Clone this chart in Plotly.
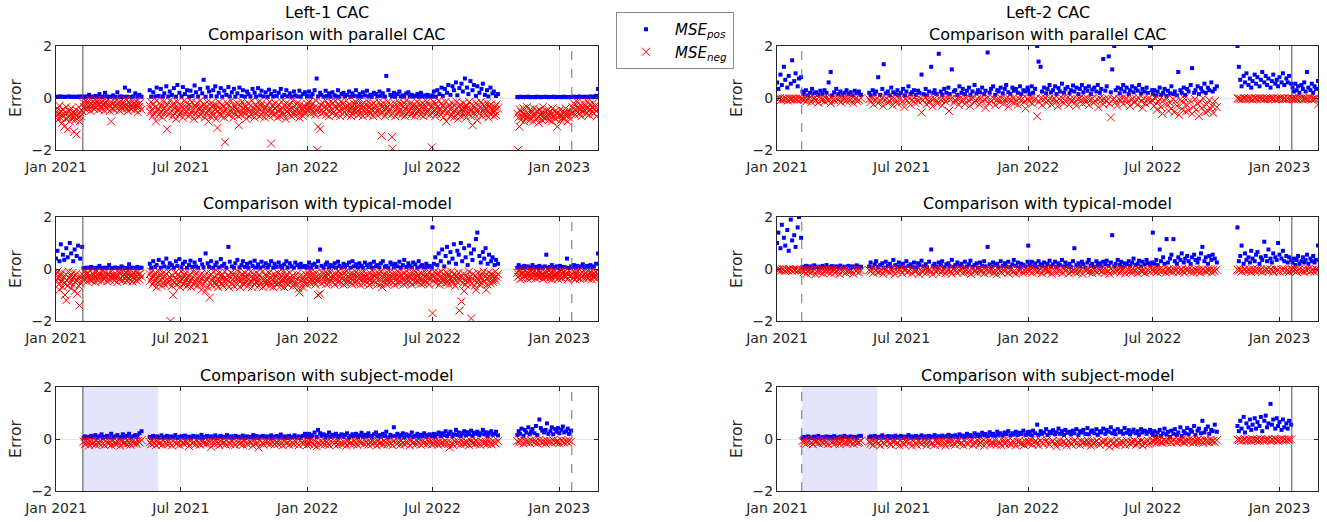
import pandas as pd
import plotly.graph_objects as go

# ---------------- data (values in hundredths of error units) ----------------
# segment boundaries (dates between which each list of daily values is spread)
L_START = ["2021-01-01", "2021-02-10", "2021-05-17", "2022-01-01", "2022-07-01", "2022-11-01", "2023-01-20"]
L_END = ["2021-02-08", "2021-05-05", "2021-12-31", "2022-06-30", "2022-10-04", "2023-01-18", "2023-02-26"]
R_START = ["2021-01-01", "2021-02-07", "2021-05-15", "2022-01-01", "2022-07-01", "2022-11-01", "2023-01-20"]
R_END = ["2021-02-05", "2021-05-03", "2021-12-31", "2022-06-30", "2022-10-02", "2023-01-18", "2023-02-26"]

TICK_DATES = ["2021-01-01", "2021-07-01", "2022-01-01", "2022-07-01", "2023-01-01"]
TICK_TEXT = ["Jan 2021", "Jul 2021", "Jan 2022", "Jul 2022", "Jan 2023"]
Y_TICKS = [-2, 0, 2]
Y_TEXT = ["\u22122", "0", "2"]

# Left-1, parallel CAC
l1_par_pos = [
    [5, 4, 6, 5, 4, 5, 6, 4, 5, 5, 4, 6, 5],
    [5, 4, 6, 12, 5, 4, 8, 5, 15, 4, 5, 20, 6, 4, 5, 10, 4, 22, 5, 6, 4, 40, 5, 28, 4, 6, 18, 5, 12, 5],
    [30, 5, 22, 6, 40, 8, 35, 5, 18, 45, 6, 25, 12, 38, 5, 50, 20, 6, 42, 15, 30, 5, 28, 8, 48, 22, 6, 35, 18, 70,
     5, 40, 25, 8, 30, 45, 6, 20, 38, 5, 28, 12, 42, 6, 22, 35, 5, 18, 40, 8, 30, 5, 25, 15, 6, 35, 20, 5, 38, 10,
     28, 6, 22, 5, 32, 15, 6, 26, 8, 20, 35, 5, 12, 30, 6, 18, 5, 25, 10, 6, 28, 5, 15, 22, 6],
    [8, 25, 5, 15, 30, 75, 6, 20, 12, 5, 28, 8, 18, 5, 22, 10, 6, 30, 5, 15, 20, 6, 12, 25, 5, 18, 8, 30, 6, 15,
     5, 22, 10, 28, 6, 12, 5, 20, 15, 6, 25, 8, 18, 5, 85, 30, 12, 6, 20, 5, 15, 25, 6, 10, 5, 18, 22, 6, 12, 5,
     8, 15, 5, 20, 6, 10, 5, 12, 6, 5],
    [10, 25, 5, 30, 15, 40, 8, 35, 20, 50, 12, 45, 30, 60, 10, 38, 55, 25, 75, 40, 15, 65, 30, 50, 8, 45, 20, 35,
     55, 12, 30, 6, 40, 18, 25, 8, 15],
    [4, 3, 5, 4, 3, 4, 5, 3, 4, 4, 3, 5, 4, 3, 4, 5, 4, 3, 4, 4, 5, 3, 4, 4, 3, 5, 4, 3, 4, 4],
    [4, 5, 3, 4, 6, 4, 3, 5, 4, 4, 6, 3, 5, 8, 35],
]
l1_par_neg = [
    [-55, -70, -40, -85, -60, -30, -75, -50, -65, -95, -45, -70, -110, -55, -80, -35, -60, -120, -75, -50, -90,
     -65, -40, -80, -55, -70, -130, -60, -85, -45, -140, -65, -75, -35, -90, -55, -70, -50],
    [-20, -35, -10, -45, -25, -15, -40, -30, -5, -50, -20, -35, -28, -12, -42, -22, -38, -8, -30, -18, -45, -25,
     -33, -15, -40, -10, -28, -48, -20, -35, -12, -42, -25, -30, -50, -18, -90, -38, -22, -45, -15, -33, -28, -8,
     -40, -20, -48, -30, -12, -36, -25, -44, -18, -32, -5, -40, -26, -50, -15, -35, -22, -42, -10, -30, -38, -20,
     -46, -28, -14, -40, -55, -24, -34, -18, -45],
    [-30, -55, -15, -45, -70, -25, -60, -35, -90, -10, -50, -40, -65, -20, -55, -30, -75, -45, -15, -60,
     -35, -50, -120, -25, -65, -40, -10, -55, -30, -70, -45, -20, -60, -35, -80, -15, -50, -40, -65, -25,
     -55, -30, -75, -45, -10, -60, -35, -50, -20, -70, -40, -25, -65, -55, -15, -45, -80, -30, -60, -35,
     -20, -50, -70, -40, -10, -65, -30, -55, -45, -25, -75, -35, -60, -15, -50, -90, -40, -70, -20, -55,
     -35, -65, -25, -45, -80, -30, -115, -50, -15, -60, -40, -70, -25, -55, -35, -75, -170, -45, -20, -60,
     -30, -65, -50, -10, -55, -40, -75, -25, -60, -35, -45, -20, -70, -105, -50, -30, -65, -15, -55, -40,
     -25, -60, -35, -80, -45, -20, -70, -50, -30, -65, -10, -55, -40, -75, -25, -60, -35, -50, -15, -70,
     -45, -30, -65, -20, -55, -40, -75, -35, -60, -25, -50, -70, -15, -45, -175, -55, -30, -65, -40, -20,
     -60, -35, -75, -50, -25, -70, -45, -15, -55, -40, -65, -30, -80, -20, -50, -35, -60, -45, -25, -70,
     -40, -10, -55, -65, -30, -50, -45, -20, -60, -35, -75, -25, -55, -40, -70, -30, -50, -60, -35, -45],
    [-25, -50, -15, -40, -60, -30, -45, -20, -55, -35, -65, -10, -50, -200, -110, -40, -120, -25, -60, -45,
     -20, -55, -35, -10, -65, -40, -25, -50, -70, -30, -15, -45, -60, -20, -55, -35, -10, -65, -40, -25,
     -50, -30, -70, -15, -45, -60, -20, -40, -55, -35, -10, -65, -30, -50, -25, -45, -70, -35, -60, -20,
     -50, -40, -15, -55, -30, -65, -45, -10, -60, -25, -40, -70, -35, -20, -55, -45, -30, -65, -15, -50,
     -35, -60, -25, -45, -70, -20, -55, -40, -30, -65, -50, -15, -45, -60, -25, -145, -35, -55, -20, -70,
     -40, -30, -60, -15, -50, -45, -25, -65, -150, -195, -35, -55, -20, -70, -40, -30, -60, -15, -50, -45,
     -25, -65, -35, -55, -20, -70, -40, -10, -60, -30, -50, -45, -20, -65, -35, -55, -25, -70, -40, -30,
     -60, -15, -50, -45, -25, -65, -35, -55, -20, -70, -40, -30, -60, -15, -50, -45, -25, -65, -35, -190],
    [-30, -55, -15, -45, -70, -25, -60, -35, -10, -50, -40, -65, -20, -55, -30, -75, -45, -15, -90, -60,
     -35, -50, -25, -70, -40, -65, -20, -55, -75, -30, -45, -15, -60, -80, -35, -55, -25, -70, -40, -50,
     -20, -65, -35, -45, -75, -30, -60, -15, -50, -40, -70, -25, -105, -55, -35, -65, -20, -50, -85, -45,
     -30, -60, -15, -40, -70, -25, -55, -45, -35, -65, -20, -50, -75, -30, -60, -40, -25, -55, -45, -70,
     -35, -50, -65, -25, -40],
    [-60, -200, -75, -110, -45, -85, -55, -70, -40, -90, -65, -50, -80, -35, -70, -60, -85, -45, -75, -55,
     -65, -90, -40, -70, -60, -80, -50, -75, -95, -45, -65, -55, -85, -35, -70, -60, -80, -50, -75, -65,
     -45, -85, -55, -70, -60, -90, -40, -75, -65, -50, -80, -60, -110, -55, -70, -45, -85, -65, -75, -50,
     -60, -80, -40, -70, -55, -90, -65, -75, -50, -60],
    [-35, -55, -20, -45, -65, -30, -50, -15, -40, -60, -25, -45, -70, -35, -55, -20, -45, -30, -60, -40, -15,
     -50, -65, -25, -45, -35, -55, -20, -60, -40, -30, -50, -70, -45],
]

# Left-1, typical-model
l1_typ_pos = [
    [40, 70, 30, 95, 55, 35, 80, 45, 100, 60, 30, 75, 50, 90, 40, 85],
    [4, 3, 5, 4, 8, 3, 4, 5, 12, 4, 3, 5, 4, 15, 3, 4, 6, 4, 3, 10, 5, 4, 3, 18, 4, 5, 3, 8, 4, 5],
    [20, 5, 30, 8, 15, 35, 5, 25, 10, 40, 6, 22, 15, 5, 30, 12, 38, 6, 20, 28, 5, 15, 32, 8, 25, 10, 5, 35, 18, 6,
     60, 22, 8, 30, 5, 15, 25, 6, 38, 12, 20, 5, 85, 28, 10, 5, 22, 35, 6, 15, 30, 8, 20, 5, 25, 12, 32, 6, 18, 5,
     28, 10, 22, 6, 15, 30, 5, 20, 8, 25, 12, 5, 18, 30, 6, 22, 10, 5, 25, 15, 6, 20, 8, 12, 5],
    [10, 25, 5, 15, 20, 8, 30, 75, 12, 5, 18, 25, 6, 15, 10, 22, 5, 28, 12, 6, 20, 8, 15, 25, 5, 30, 10, 18, 6, 22,
     12, 5, 25, 15, 8, 20, 5, 28, 10, 15, 6, 22, 30, 8, 12, 5, 25, 18, 6, 20, 10, 28, 5, 15, 35, 8, 22, 12, 6, 25,
     18, 5, 30, 10, 15, 6, 20, 8, 12, 5],
    [160, 20, 45, 15, 60, 30, 75, 10, 50, 85, 25, 65, 40, 95, 20, 70, 55, 100, 30, 80, 45, 15, 90, 60, 35, 75,
     115, 140, 50, 25, 65, 40, 80, 20, 55, 30, 45, 15, 35, 20],
    [5, 15, 4, 8, 12, 5, 10, 4, 6, 15, 5, 8, 4, 12, 6, 5, 10, 55, 4, 8, 15, 5, 6, 10, 4, 12, 5, 8, 6, 40, 4, 10],
    [8, 15, 5, 12, 6, 10, 18, 5, 12, 8, 15, 6, 10, 20, 60],
]
l1_typ_neg = [
    [-20, -45, -10, -35, -60, -80, -25, -50, -15, -40, -70, -30, -55, -100, -20, -120, -45, -65, -10, -35, -55,
     -25, -75, -40, -15, -60, -30, -85, -50, -20, -45, -95, -35, -65, -140, -25, -55, -40],
    [-25, -40, -10, -35, -20, -48, -15, -30, -42, -8, -28, -45, -18, -35, -22, -50, -12, -38, -25, -44, -15, -30,
     -20, -46, -10, -34, -26, -40, -14, -32, -48, -22, -36, -18, -42, -28, -10, -38, -24, -30, -45, -16, -33,
     -27, -50, -12, -40, -20, -35, -8, -44, -26, -18, -38, -30, -14, -46, -22, -36, -10, -42, -28, -20, -48,
     -32, -15, -38, -25, -44, -12, -35, -22, -40, -18, -30],
    [-20, -45, -10, -35, -60, -25, -50, -15, -40, -70, -30, -55, -10, -45, -25, -65, -35, -15, -50, -30,
     -60, -20, -40, -55, -10, -45, -30, -200, -65, -25, -100, -50, -35, -15, -60, -40, -20, -55, -30, -70,
     -45, -10, -35, -60, -25, -50, -15, -40, -65, -30, -55, -20, -45, -70, -35, -10, -60, -25, -50, -40,
     -15, -65, -30, -55, -45, -20, -80, -35, -60, -25, -50, -85, -40, -15, -70, -30, -110, -55, -20, -45,
     -65, -35, -10, -50, -25, -60, -40, -70, -15, -45, -30, -55, -20, -65, -35, -50, -10, -40, -60, -25,
     -45, -70, -30, -15, -55, -40, -20, -65, -35, -50, -25, -60, -10, -45, -30, -70, -40, -20, -55, -35,
     -60, -15, -50, -30, -65, -40, -25, -55, -10, -45, -70, -35, -20, -60, -40, -50, -15, -30, -65, -45,
     -25, -55, -35, -10, -70, -40, -50, -20, -60, -30, -45, -15, -65, -35, -55, -25, -40, -70, -20, -50,
     -30, -60, -45, -15, -55, -35, -65, -25, -50, -10, -40, -70, -30, -55, -20, -45, -60, -35, -15, -50,
     -40, -25, -65, -30, -55, -45, -20, -60, -35, -75, -90, -50, -25, -40, -70, -30, -55, -45, -20, -60],
    [-30, -15, -45, -25, -55, -10, -40, -20, -50, -35, -60, -15, -45, -30, -100, -40, -95, -25, -55, -10,
     -35, -20, -50, -30, -58, -15, -42, -25, -55, -12, -45, -35, -22, -50, -28, -60, -18, -40, -26, -52,
     -10, -47, -30, -20, -53, -36, -60, -14, -40, -24, -55, -8, -45, -32, -21, -50, -38, -58, -16, -42,
     -25, -55, -12, -46, -30, -18, -52, -35, -60, -15, -40, -27, -56, -10, -44, -31, -22, -50, -36, -62,
     -14, -41, -26, -54, -9, -47, -29, -19, -51, -34, -60, -16, -38, -24, -57, -11, -70, -33, -21, -49,
     -37, -58, -13, -43, -28, -55, -10, -45, -32, -20, -52, -35, -61, -17, -39, -25, -54, -12, -46, -30,
     -22, -50, -36, -59, -15, -41, -26, -56, -9, -44, -31, -18, -51, -33, -60, -14, -40, -27, -53, -11,
     -45, -29, -23, -49, -37, -57, -16, -42, -24, -55, -10, -47, -32, -19, -52, -34, -60, -13, -38, -26],
    [-170, -25, -45, -10, -35, -55, -20, -40, -15, -60, -30, -50, -10, -35, -45, -20, -55, -30, -40, -15,
     -50, -25, -60, -35, -10, -45, -30, -55, -20, -40, -65, -25, -50, -35, -15, -160, -45, -30, -125, -55,
     -20, -85, -40, -60, -25, -50, -35, -10, -45, -30, -190, -55, -20, -40, -65, -25, -80, -50, -35, -15,
     -45, -60, -30, -20, -55, -40, -10, -50, -25, -80, -35, -60, -15, -45, -30, -55, -20, -40, -50, -25,
     -35, -10, -45, -30, -20],
    [-15, -30, -5, -25, -40, -10, -20, -35, -15, -28, -8, -32, -22, -12, -38, -18, -26, -6, -34, -20, -14, -30,
     -10, -24, -36, -16, -28, -8, -22, -32, -12, -26, -18, -38, -20, -25, -10, -33, -18, -28, -6, -36, -22, -14,
     -30, -40, -12, -24, -8, -34, -20, -27, -15, -38, -10, -30, -22, -5, -35, -18, -25, -12, -32, -28, -16, -40,
     -20, -8, -30, -24],
    [-20, -35, -10, -28, -40, -15, -25, -32, -8, -22, -38, -18, -30, -12, -26, -35, -20, -14, -33, -24, -6, -36,
     -18, -28, -10, -40, -22, -30, -15, -34, -25, -12, -38, -20],
]

# Left-1, subject-model
l1_sub_pos = [
    [],
    [5, 10, 4, 8, 12, 6, 15, 5, 10, 18, 4, 8, 12, 6, 20, 5, 10, 15, 4, 8, 18, 6, 12, 20, 5, 10, 15, 8, 22, 30],
    [8, 4, 12, 6, 10, 5, 14, 4, 8, 12, 5, 10, 6, 15, 4, 8, 11, 5, 13, 6, 9, 4, 12, 7, 10, 5, 16, 4, 8, 12, 6, 10,
     5, 14, 4, 9, 12, 5, 8, 15, 6, 10, 4, 12, 7, 9, 5, 13, 4, 10, 8, 6, 15, 5, 11, 4, 9, 12, 6, 10, 5, 14, 4, 8,
     12, 6, 17, 5, 10, 4, 12, 8, 6, 14, 5, 10, 4, 12, 20, 8],
    [10, 20, 6, 15, 25, 8, 35, 22, 12, 18, 5, 14, 25, 8, 16, 10, 20, 6, 12, 18, 8, 15, 22, 5, 12, 18, 10, 20, 6,
     14, 24, 8, 16, 10, 22, 12, 6, 18, 25, 10, 15, 8, 20, 12, 28, 6, 16, 10, 45, 12, 20, 8, 15, 22, 6, 18, 10,
     14, 25, 8, 12, 20, 6, 16, 10, 22, 8, 14, 18, 10],
    [12, 20, 8, 18, 25, 10, 22, 15, 30, 12, 20, 28, 10, 18, 35, 15, 25, 12, 22, 30, 14, 26, 18, 32, 12, 24, 20,
     28, 15, 22, 35, 18, 26, 12, 24, 30, 16, 20, 28, 14],
    [15, 30, 20, 40, 12, 35, 25, 45, 18, 28, 38, 22, 50, 15, 75, 42, 32, 25, 35, 60, 20, 30, 45, 18, 38, 28, 42,
     22, 35, 48, 25, 30, 40, 20, 32],
    [],
]
l1_sub_neg = [
    [],
    [-10, -20, -5, -15, -25, -8, -18, -12, -22, -6, -14, -20, -9, -17, -24, -7, -13, -19, -11, -23, -5, -16,
     -21, -10, -14, -26, -8, -18, -12, -20, -6, -15, -22, -9, -17, -11, -19, -7, -13, -4],
    [-12, -20, -6, -16, -24, -9, -18, -13, -22, -7, -15, -21, -10, -17, -25, -8, -14, -19, -11, -23, -6, -16,
     -20, -10, -14, -27, -8, -18, -12, -21, -5, -15, -22, -9, -17, -11, -19, -7, -13, -30, -10, -20, -5, -15,
     -24, -8, -18, -12, -22, -6, -14, -20, -9, -17, -23, -7, -13, -19, -11, -22, -5, -16, -21, -10, -14, -26,
     -8, -18, -12, -33, -6, -15, -22, -9, -17, -11, -19, -7, -13, -21, -10, -20, -5, -15, -25, -8, -18, -12,
     -22, -6, -14, -20, -9, -17, -24, -7, -13, -19, -11, -23],
    [-11, -19, -6, -15, -23, -9, -28, -13, -21, -7, -16, -20, -10, -18, -24, -8, -14, -19, -12, -22, -5, -17,
     -21, -10, -15, -26, -8, -18, -13, -20, -6, -16, -23, -9, -17, -12, -19, -7, -14, -22, -10, -20, -6, -15,
     -25, -8, -18, -12, -21, -7, -14, -20, -9, -17, -24, -8, -13, -19, -11, -22, -6, -16, -21, -10, -14, -25,
     -8, -18, -12, -20, -6, -15, -22, -9, -17, -11, -19, -7, -13, -21],
    [-10, -18, -6, -15, -22, -9, -17, -13, -20, -7, -14, -19, -32, -16, -23, -8, -12, -18, -11, -21, -6, -15,
     -20, -10, -14, -24, -8, -17, -12, -19, -7, -16, -22, -9, -13, -18, -10, -20, -6, -15, -21, -9, -14, -17, -8],
    [-8, -14, -4, -11, -17, -6, -12, -9, -15, -5, -10, -13, -7, -16, -4, -11, -14, -8, -18, -6, -12, -9, -15,
     -5, -13, -10, -7, -16, -4, -11, -14, -8, -12, -6, -10],
    [],
]

# Left-2, parallel CAC
l2_par_pos = [
    [60, 35, 90, 50, 120, 70, 40, 85, 55, 145, 65, 95, 45, 75, 80],
    [25, 15, 30, 10, 20, 35, 18, 22, 12, 28, 15, 30, 20, 60, 100, 10, 22, 35, 15, 25, 12, 20, 30, 15, 22, 10, 28,
     18, 25, 12],
    [20, 10, 30, 15, 25, 80, 12, 35, 130, 18, 25, 10, 40, 22, 15, 30, 12, 20, 35, 10, 25, 45, 15, 22, 30, 12, 28,
     20, 90, 15, 35, 10, 25, 120, 20, 30, 15, 170, 25, 12, 35, 20, 40, 15, 110, 25, 30, 12, 45, 20, 35, 15, 28,
     40, 12, 25, 50, 18, 30, 22, 40, 15, 28, 175, 20, 35, 45, 12, 30, 25, 40, 18, 35, 50, 22, 15, 40, 28, 35, 20,
     45, 15, 30, 25, 40],
    [30, 15, 45, 20, 35, 200, 140, 120, 25, 40, 18, 35, 50, 22, 30, 45, 15, 38, 25, 55, 20, 35, 42, 18, 30, 48,
     25, 40, 15, 35, 50, 22, 38, 28, 45, 15, 32, 40, 25, 50, 20, 35, 150, 28, 45, 160, 22, 110, 200, 30, 40, 18,
     35, 50, 25, 40, 15, 30, 45, 22, 38, 28, 50, 18, 35, 25, 40, 20, 200, 30],
    [15, 30, 10, 25, 40, 12, 20, 35, 8, 28, 18, 45, 15, 25, 10, 100, 30, 20, 40, 12, 35, 25, 50, 115, 20, 30, 45,
     15, 38, 25, 55, 20, 40, 30, 60, 25, 35, 45],
    [200, 120, 70, 45, 85, 60, 95, 50, 75, 40, 65, 90, 55, 80, 45, 70, 100, 60, 85, 50, 75, 40, 65, 90, 55, 70,
     45, 80, 60, 95, 50, 75, 60, 85, 55],
    [40, 25, 55, 30, 45, 20, 50, 35, 60, 25, 100, 40, 30, 55, 20, 45, 35, 65],
]
l2_par_neg = [
    [-2, -5, -1, -8, -3, -6, -2, -4, -10, -1, -5, -3, -7, -2, -4, -6, -1, -3],
    [-3, -8, -1, -12, -5, -2, -15, -6, -1, -10, -4, -18, -2, -7, -3, -14, -1, -9, -5, -20, -2, -6, -11, -3, -8,
     -1, -16, -4, -2, -12, -6, -1, -9, -3, -20, -5, -2, -13, -7, -1],
    [-5, -15, -2, -25, -8, -1, -20, -10, -3, -30, -6, -1, -18, -12, -4, -28, -2, -9, -22, -5, -1, -15, -35, -3,
     -11, -2, -26, -7, -1, -19, -4, -14, -2, -55, -8, -1, -24, -6, -16, -3, -32, -2, -10, -21, -1, -7, -29, -4,
     -13, -2, -50, -5, -1, -18, -9, -3, -27, -1, -12, -6, -23, -2, -8, -31, -4, -1, -17, -10, -3, -25, -2, -14,
     -6, -38, -1, -20, -5, -11, -2, -28, -8, -3, -16, -1, -22, -7, -2, -33, -4, -12, -1, -19, -6, -26, -3, -9,
     -2, -15, -40, -5],
    [-4, -12, -2, -22, -7, -1, -70, -15, -3, -28, -5, -1, -18, -9, -2, -25, -6, -1, -14, -32, -3, -10, -2, -20,
     -7, -1, -26, -4, -12, -2, -17, -30, -5, -1, -9, -22, -3, -15, -1, -27, -6, -2, -19, -11, -3, -35, -1, -8,
     -24, -4, -13, -2, -21, -75, -6, -1, -16, -29, -3, -10, -2, -23, -5, -1, -14, -31, -7, -2, -18, -4, -26, -1,
     -12, -38, -3, -20, -6, -1, -15, -9],
    [-10, -30, -2, -45, -15, -5, -35, -60, -8, -25, -1, -50, -20, -40, -3, -55, -12, -30, -65, -6, -42, -18, -2,
     -52, -28, -48, -10, -60, -35, -4, -45, -22, -70, -15, -38, -1, -55, -25, -50, -8, -42, -30, -58, -12, -35],
    [-1, -3, -2, -5, -1, -2, -4, -1, -3, -2, -6, -1, -2, -4, -1, -3, -2, -5, -1, -2, -3, -1, -4, -2, -6, -1, -3,
     -2, -1, -4, -2, -5, -1, -3, -2],
    [-2, -4, -1, -3, -6, -1, -2, -5, -1, -3, -2, -4, -1, -6, -2, -3, -1, -25],
]

# Left-2, typical-model
l2_typ_pos = [
    [100, 140, 80, 170, 120, 90, 150, 70, 190, 110, 130, 85, 160, 200, 120],
    [8, 5, 12, 6, 10, 4, 14, 7, 9, 5, 12, 6, 15, 5, 8, 11, 4, 10, 7, 13, 5, 9, 6, 12, 4, 10, 8, 14, 5, 9],
    [10, 25, 6, 18, 30, 8, 15, 22, 5, 28, 12, 20, 6, 35, 15, 8, 25, 10, 20, 5, 30, 12, 18, 8, 25, 6, 22, 15, 32,
     10, 18, 6, 28, 75, 12, 20, 8, 25, 15, 30, 6, 18, 22, 10, 35, 8, 15, 25, 12, 20, 6, 28, 10, 18, 32, 8, 15, 22,
     5, 25, 12, 30, 10, 85, 18, 8, 25, 15, 20, 6, 30, 12, 22, 10, 28, 8, 18, 35, 12, 25, 6, 20, 15, 10, 28],
    [90, 15, 28, 10, 22, 8, 30, 18, 12, 25, 6, 20, 32, 10, 18, 28, 8, 22, 15, 35, 10, 25, 12, 20, 8, 30, 80, 15,
     22, 10, 28, 18, 6, 25, 35, 12, 20, 8, 30, 15, 22, 10, 28, 18, 32, 12, 25, 130, 10, 20, 35, 15, 28, 8, 22, 18,
     30, 12, 25, 40, 15, 20, 32, 10, 28, 18, 35, 22, 15, 25],
    [140, 20, 35, 15, 75, 30, 45, 20, 115, 25, 40, 55, 115, 30, 20, 45, 35, 60, 25, 40, 50, 30, 20, 45, 55, 35, 25,
     40, 60, 85, 30, 45, 20, 50, 35, 55, 40, 25],
    [160, 30, 50, 90, 20, 60, 35, 45, 25, 70, 40, 30, 55, 65, 20, 45, 35, 105, 50, 30, 75, 40, 25, 60, 45, 35, 100,
     55, 40, 70, 30, 50, 25, 45, 35],
    [25, 40, 15, 35, 50, 20, 30, 45, 25, 35, 55, 20, 40, 30, 50, 25, 35, 90],
]
l2_typ_neg = [
    [-1, -4, -2, -6, -1, -3, -8, -2, -5, -1, -3, -7, -2, -4, -1, -6, -3, -2],
    [-5, -12, -2, -18, -8, -3, -15, -6, -1, -20, -9, -4, -13, -2, -17, -7, -3, -11, -1, -16, -6, -2, -14, -9, -4,
     -19, -3, -10, -1, -15, -7, -2, -12, -5, -18, -3, -8, -1, -13, -6],
    [-4, -10, -2, -15, -6, -1, -12, -8, -3, -18, -5, -1, -9, -14, -2, -7, -20, -3, -11, -1, -6, -16, -4, -2, -13,
     -8, -1, -17, -5, -10, -3, -19, -2, -7, -12, -1, -15, -6, -3, -9, -20, -2, -11, -4, -1, -14, -8, -3, -16, -6,
     -2, -10, -18, -1, -5, -13, -3, -8, -1, -15, -7, -2, -12, -4, -19, -1, -9, -6, -14, -2, -11, -3, -17, -5, -1,
     -10, -8, -2, -15, -4, -20, -1, -7, -13, -3, -9, -2, -16, -5, -1, -12, -6, -18, -3, -8, -2, -14, -4, -10, -1],
    [-3, -9, -1, -14, -5, -2, -11, -7, -1, -16, -4, -2, -12, -8, -3, -18, -1, -6, -13, -2, -10, -4, -15, -1, -7,
     -3, -17, -2, -9, -5, -12, -1, -14, -6, -2, -19, -3, -8, -1, -11, -4, -16, -2, -7, -13, -1, -5, -10, -3, -15,
     -2, -8, -18, -1, -6, -12, -3, -9, -1, -14, -4, -2, -17, -7, -1, -11, -3, -13, -5, -2, -16, -1, -8, -10, -3,
     -15, -2, -6, -12, -4],
    [-2, -8, -1, -12, -4, -1, -10, -6, -2, -14, -3, -1, -9, -5, -11, -1, -7, -2, -13, -4, -1, -8, -15, -2, -6, -1,
     -10, -3, -12, -1, -5, -9, -2, -14, -4, -1, -7, -11, -2, -6, -1, -13, -3, -8, -2],
    [-2, -6, -1, -10, -3, -1, -8, -4, -2, -12, -1, -5, -9, -2, -7, -1, -11, -3, -6, -1, -9, -2, -4, -12, -1, -7,
     -3, -10, -2, -5, -1, -8, -3, -11, -2],
    [-2, -7, -1, -10, -4, -1, -8, -3, -12, -2, -6, -1, -9, -4, -2, -11, -1, -5],
]

# Left-2, subject-model
l2_sub_pos = [
    [],
    [5, 8, 4, 10, 6, 3, 9, 5, 12, 4, 7, 6, 10, 5, 8, 4, 11, 6, 5, 9, 4, 12, 7, 5, 10, 6, 8, 4, 11, 12],
    [6, 10, 4, 12, 7, 5, 9, 14, 5, 8, 11, 4, 10, 6, 13, 5, 8, 12, 4, 9, 7, 15, 5, 10, 6, 12, 4, 8, 14, 6, 10, 5,
     12, 7, 9, 15, 5, 11, 6, 13, 8, 10, 16, 6, 12, 9, 14, 7, 18, 10, 13, 8, 20, 11, 15, 9, 22, 12, 17, 10, 24,
     14, 19, 11, 26, 15, 20, 12, 28, 16, 22, 13, 25, 18, 30, 14, 22, 17, 28, 15, 24, 19, 32, 16, 26],
    [18, 28, 14, 32, 22, 55, 16, 30, 20, 25, 38, 15, 28, 22, 34, 18, 26, 40, 20, 30, 16, 35, 24, 28, 18, 32, 22,
     38, 15, 30, 25, 35, 20, 42, 18, 28, 33, 22, 38, 16, 30, 25, 40, 20, 35, 28, 45, 22, 32, 18, 38, 26, 30, 20,
     42, 24, 34, 18, 28, 36, 22, 30, 16, 38, 25, 32, 20, 28, 35, 22],
    [15, 30, 10, 25, 35, 12, 22, 40, 18, 28, 8, 32, 20, 38, 15, 25, 45, 12, 30, 22, 42, 18, 35, 28, 50, 15, 32,
     40, 22, 70, 25, 38, 48, 20, 35, 30, 55, 28],
    [50, 30, 70, 40, 85, 25, 60, 45, 75, 35, 55, 80, 40, 65, 50, 85, 30, 70, 90, 45, 60, 135, 55, 75, 40, 80, 50,
     65, 35, 75, 45, 60, 40, 70, 55],
    [],
]
l2_sub_neg = [
    [],
    [-8, -15, -4, -18, -10, -6, -14, -20, -5, -12, -9, -17, -3, -11, -16, -7, -13, -19, -5, -10, -15, -8, -18, -4,
     -12, -20, -9, -6, -14, -11, -17, -5, -13, -8, -19, -10, -4, -15, -12, -7],
    [-10, -18, -5, -22, -12, -8, -16, -25, -6, -14, -20, -9, -4, -17, -23, -11, -7, -19, -13, -24, -5, -15, -21,
     -10, -8, -18, -12, -26, -6, -16, -22, -9, -14, -20, -5, -11, -24, -13, -7, -19, -15, -23, -8, -17, -10, -21,
     -6, -14, -25, -12, -9, -18, -4, -16, -22, -11, -7, -20, -13, -24, -6, -15, -19, -10, -8, -23, -12, -17, -5,
     -21, -14, -9, -26, -11, -16, -7, -20, -13, -18, -6, -22, -10, -15, -24, -8, -19, -12, -5, -17, -21, -9, -14,
     -25, -11, -7, -18, -13, -23, -10, -16],
    [-9, -17, -5, -21, -12, -7, -15, -24, -6, -13, -19, -10, -4, -16, -22, -11, -8, -18, -28, -14, -6, -20, -12,
     -9, -17, -25, -7, -15, -21, -10, -5, -18, -13, -23, -8, -16, -11, -20, -6, -14, -26, -9, -19, -12, -7, -17,
     -22, -10, -15, -5, -21, -13, -30, -8, -18, -11, -24, -6, -16, -20, -9, -14, -23, -7, -12, -19, -10, -17, -5,
     -22, -13, -15, -8, -25, -11, -18, -6, -20, -14, -9],
    [-5, -10, -2, -13, -7, -3, -11, -15, -4, -8, -12, -2, -9, -14, -6, -3, -10, -13, -5, -8, -2, -12, -15, -6, -9,
     -4, -11, -3, -14, -7, -10, -2, -12, -5, -8, -15, -4, -11, -6, -13, -3, -9, -7, -12, -5],
    [-2, -5, -1, -7, -3, -1, -6, -4, -2, -8, -1, -3, -5, -2, -7, -1, -4, -6, -2, -3, -1, -8, -2, -5, -1, -4, -7, -3,
     -1, -6, -2, -5, -1, -3, -2],
    [],
]

COL_TITLES = ["Left-1 CAC", "Left-2 CAC"]
ROW_TITLES = ["Comparison with parallel CAC", "Comparison with typical-model", "Comparison with subject-model"]

# reference markers (event dates)
L_SOLID, L_DASH = "2021-02-09", "2023-01-19"
R_DASH, R_SOLID = "2021-02-06", "2023-01-19"
L_SHADE = ("2021-02-09", "2021-05-29")
R_SHADE = ("2021-02-06", "2021-05-27")

# ---------------- figure ----------------
W, H = 1327, 522
FONT = "DejaVu Sans"
AX = "#262626"
COLS_PX = [(56, 598), (777, 1318)]
ROWS_PX = [(46, 150), (217, 321), (387, 491)]


def build(starts, ends, segs):
    xs, ys = [], []
    for s, e, vals in zip(starts, ends, segs):
        if not vals:
            continue
        xs += list(pd.date_range(s, e, periods=len(vals)).strftime("%Y-%m-%d"))
        ys += [v / 100 for v in vals]
    return xs, ys


panels = [
    (0, 0, L_START, L_END, l1_par_pos, l1_par_neg),
    (0, 1, R_START, R_END, l2_par_pos, l2_par_neg),
    (1, 0, L_START, L_END, l1_typ_pos, l1_typ_neg),
    (1, 1, R_START, R_END, l2_typ_pos, l2_typ_neg),
    (2, 0, L_START, L_END, l1_sub_pos, l1_sub_neg),
    (2, 1, R_START, R_END, l2_sub_pos, l2_sub_neg),
]

fig = go.Figure()
layout = dict(
    width=W, height=H, margin=dict(l=0, r=0, t=0, b=0, autoexpand=False),
    paper_bgcolor="white", plot_bgcolor="white",
    font=dict(family=FONT, size=14, color=AX),
    showlegend=True,
    legend=dict(x=616 / W, y=1 - 12 / H, xanchor="left", yanchor="top",
                bordercolor="#8c8c8c", borderwidth=1, bgcolor="white",
                font=dict(family=FONT, size=15, color="#000"), itemwidth=48,
                tracegroupgap=0),
)
shapes, annotations = [], []

for i, (r, c, st, en, pos, neg) in enumerate(panels):
    k = i + 1
    xa = "x" if k == 1 else f"x{k}"
    ya = "y" if k == 1 else f"y{k}"
    xkey = "xaxis" if k == 1 else f"xaxis{k}"
    ykey = "yaxis" if k == 1 else f"yaxis{k}"
    x0p, x1p = COLS_PX[c]
    y0p, y1p = ROWS_PX[r]
    layout[xkey] = dict(
        domain=[x0p / W, x1p / W], anchor=ya, type="date", automargin=False,
        range=["2021-01-01", "2023-02-26"],
        tickvals=TICK_DATES, ticktext=TICK_TEXT,
        showgrid=True, gridcolor="#e6e6e6", gridwidth=1,
        showline=True, linecolor=AX, linewidth=1, mirror="ticks",
        ticks="inside", ticklen=4, tickcolor=AX, ticklabelstandoff=4,
        tickfont=dict(family=FONT, size=14, color=AX), zeroline=False,
    )
    layout[ykey] = dict(
        domain=[1 - y1p / H, 1 - y0p / H], anchor=xa, automargin=False,
        range=[-2, 2], tickvals=Y_TICKS, ticktext=Y_TEXT,
        showgrid=True, gridcolor="#e6e6e6", gridwidth=1,
        showline=True, linecolor=AX, linewidth=1, mirror="ticks",
        ticks="inside", ticklen=4, tickcolor=AX,
        tickfont=dict(family=FONT, size=14, color=AX), zeroline=False,
        title=dict(text="Error", font=dict(family=FONT, size=15.5, color=AX), standoff=6),
    )
    px_, py_ = build(st, en, pos)
    nx_, ny_ = build(st, en, neg)
    fig.add_trace(go.Scatter(
        x=px_, y=py_, mode="markers", xaxis=xa, yaxis=ya,
        name="<i>MSE</i><sub><i>pos</i></sub>", showlegend=(k == 1), legendgroup="pos",
        marker=dict(symbol="square", size=4, color="#0000ff", line=dict(width=0)),
    ))
    fig.add_trace(go.Scatter(
        x=nx_, y=ny_, mode="markers", xaxis=xa, yaxis=ya,
        name="<i>MSE</i><sub><i>neg</i></sub>", showlegend=(k == 1), legendgroup="neg",
        marker=dict(symbol="x-thin", size=8, color="#ff0000", line=dict(width=1, color="#ff0000")),
    ))

    dom = f"{ya} domain"
    if c == 0:
        solid, dashed, shade = L_SOLID, L_DASH, L_SHADE
    else:
        solid, dashed, shade = R_SOLID, R_DASH, R_SHADE
    if r == 2:
        shapes.append(dict(type="rect", xref=xa, yref=dom, x0=shade[0], x1=shade[1], y0=0, y1=1,
                           fillcolor="rgb(228,228,250)", line=dict(width=0), layer="below"))
    shapes.append(dict(type="line", xref=xa, yref=dom, x0=solid, x1=solid, y0=0, y1=1,
                       line=dict(color="#505050", width=1)))
    shapes.append(dict(type="line", xref=xa, yref=dom, x0=dashed, x1=dashed, y0=0, y1=1,
                       line=dict(color="#707070", width=1, dash="dash")))

    cx = (x0p + x1p) / 2 / W
    title_y = {0: 34, 1: 204, 2: 375}[r]
    annotations.append(dict(text=ROW_TITLES[r], x=cx, y=1 - title_y / H, xref="paper", yref="paper",
                            showarrow=False, xanchor="center", yanchor="middle",
                            font=dict(family=FONT, size=16, color="#000")))
    if r == 0:
        annotations.append(dict(text=COL_TITLES[c], x=cx, y=1 - 13 / H, xref="paper", yref="paper",
                                showarrow=False, xanchor="center", yanchor="middle",
                                font=dict(family=FONT, size=16, color="#000")))

layout["shapes"] = shapes
layout["annotations"] = annotations
fig.update_layout(**layout)
fig.write_html("out.html", config={"displayModeBar": False},
               post_script="document.body.style.margin='0px';document.documentElement.style.margin='0px';")
